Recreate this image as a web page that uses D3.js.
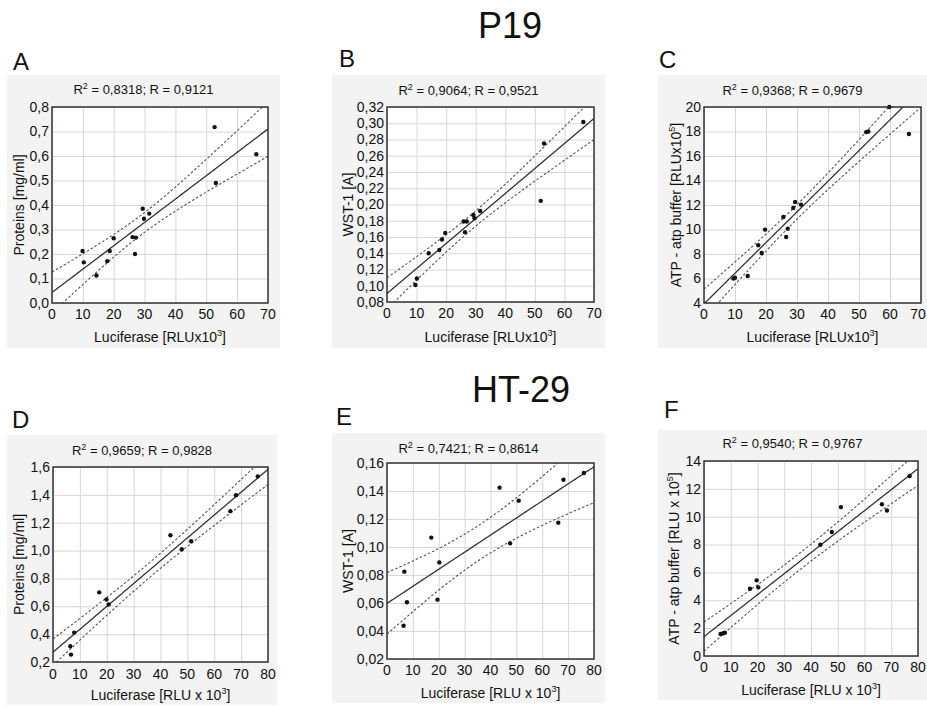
<!DOCTYPE html>
<html><head><meta charset="utf-8">
<script src="https://cdn.jsdelivr.net/npm/d3@7"></script>
<style>
body{margin:0;background:#fff;}
svg{display:block;}
text{font-family:"Liberation Sans",Arial,sans-serif;fill:#111;}
</style>
</head><body>
<svg id="chart" width="927" height="707"></svg>
<script>
// ---------------- DATA ----------------
const panelIds = ["A","B","C","D","E","F"];
const groupTitles = ["P19","HT-29"];

// Luciferase [RLU x 10^3] (x) and response (y) per panel
const luciferaseA = [9.9,10.3,14.4,17.9,18.7,20.0,26.1,27.2,26.9,29.4,29.8,31.5,52.7,53.1,66.2];
const proteinsA   = [0.212,0.166,0.112,0.171,0.212,0.264,0.269,0.267,0.200,0.385,0.344,0.365,0.718,0.490,0.607];

const luciferaseB = [9.6,10.1,14.1,17.7,18.6,19.7,25.9,27.0,26.4,29.2,29.6,31.5,52.0,53.1,66.4];
const wst1B       = [0.101,0.109,0.140,0.144,0.157,0.165,0.179,0.179,0.166,0.187,0.183,0.192,0.2045,0.275,0.3015];

const luciferaseC = [9.5,10.0,14.1,17.5,18.6,19.7,25.6,27.0,26.5,28.8,29.4,31.3,52.3,53.0,59.8,66.1];
const atpC        = [5.99,6.07,6.2,8.71,8.08,9.99,11.02,10.07,9.39,11.76,12.24,12.03,17.95,18.0,20.0,17.8];

const luciferaseD = [6.45,6.7,7.9,17.2,19.9,20.7,43.7,47.9,51.4,66.0,68.1,76.2];
const proteinsD   = [0.313,0.253,0.411,0.700,0.649,0.613,1.110,1.009,1.067,1.283,1.398,1.533];

const luciferaseE = [6.7,6.4,7.7,17.1,20.2,19.5,43.5,47.6,50.9,66.2,68.2,76.1];
const wst1E       = [0.0824,0.0438,0.0605,0.1067,0.089,0.0624,0.1424,0.1026,0.1331,0.1174,0.148,0.1529];

const luciferaseF = [6.2,7.2,7.8,17.2,19.7,20.3,43.5,47.8,51.2,66.5,68.4,76.9];
const atpF        = [1.58,1.63,1.67,4.83,5.43,4.93,7.99,8.9,10.69,10.9,10.45,12.92];

const r2Values = ["0,8318","0,9064","0,9368","0,9659","0,7421","0,9540"];
const rValues  = ["0,9121","0,9521","0,9679","0,9828","0,8614","0,9767"];

const xTicksP19  = [0,10,20,30,40,50,60,70];
const xTicksHT29 = [0,10,20,30,40,50,60,70,80];
const yTicksA = [0,0.1,0.2,0.3,0.4,0.5,0.6,0.7,0.8];
const yTicksB = [0.08,0.10,0.12,0.14,0.16,0.18,0.20,0.22,0.24,0.26,0.28,0.30,0.32];
const yTicksC = [4,6,8,10,12,14,16,18,20];
const yTicksD = [0.2,0.4,0.6,0.8,1.0,1.2,1.4,1.6];
const yTicksE = [0.02,0.04,0.06,0.08,0.10,0.12,0.14,0.16];
const yTicksF = [0,2,4,6,8,10,12,14];
const yDecimals = [1,2,0,1,2,0];

// axis titles: [text, superscript, tail]
const yTitles = [
  ["Proteins [mg/ml]","",""],
  ["WST-1 [A]","",""],
  ["ATP - atp buffer [RLUx10","5","]"],
  ["Proteins [mg/ml]","",""],
  ["WST-1 [A]","",""],
  ["ATP - atp buffer [RLU x 10","5","]"]
];
const xTitleP19  = ["Luciferase [RLUx10","3","]"];
const xTitleHT29 = ["Luciferase [RLU x 10","3","]"];

// two-sided 95% Student t critical values by degrees of freedom
const tCrit = {10:2.228, 11:2.201, 12:2.179, 13:2.160, 14:2.145};

// ---------------- LAYOUT ----------------
const xsAll = [luciferaseA,luciferaseB,luciferaseC,luciferaseD,luciferaseE,luciferaseF];
const ysAll = [proteinsA,wst1B,atpC,proteinsD,wst1E,atpF];
const yTicksAll = [yTicksA,yTicksB,yTicksC,yTicksD,yTicksE,yTicksF];

const layout = [
  {bg:[7,75,273,273],  p:[52,268,107,303], letter:[13,70], titleY:94, yTitleX:19, xTickY:319, xTitleY:342},
  {bg:[332,75,273,273],p:[387,594,107,302],letter:[339,67], titleY:95, yTitleX:348, xTickY:318, xTitleY:342},
  {bg:[658,75,269,273],p:[704,921,107,303],letter:[659,68], titleY:95, yTitleX:676, xTickY:319, xTitleY:342},
  {bg:[7,435,270,270], p:[53,268,467,662], letter:[12,428], titleY:455, yTitleX:19, xTickY:679, xTitleY:700},
  {bg:[332,433,273,270],p:[387,594,463,659],letter:[336,425], titleY:453, yTitleX:348, xTickY:675, xTitleY:698},
  {bg:[658,430,269,270],p:[704,918,461,656],letter:[664,418], titleY:448, yTitleX:674, xTickY:672, xTitleY:695}
];

const svg = d3.select("#chart");
const W = 927;

function supText(sel, parts, supSize){
  sel.append("tspan").text(parts[0]);
  if (parts[1]) {
    sel.append("tspan").attr("dy",-6).attr("font-size",supSize).text(parts[1]);
    sel.append("tspan").attr("dy",6).text(parts[2]);
  }
}

function fit(xs, ys){
  const n = xs.length;
  const mx = d3.mean(xs), my = d3.mean(ys);
  let sxx=0, sxy=0;
  xs.forEach((x,i)=>{ sxx+=(x-mx)*(x-mx); sxy+=(x-mx)*(ys[i]-my); });
  const b = sxy/sxx, a = my - b*mx;
  let sse=0; xs.forEach((x,i)=>{ const r=ys[i]-(a+b*x); sse+=r*r; });
  const s = Math.sqrt(sse/(n-2));
  const t = tCrit[n-2] || 2.2;
  return {a,b,s,t,n,mx,sxx};
}

// group titles
svg.append("text").attr("x",510).attr("y",38).attr("text-anchor","middle")
  .attr("font-size",36).text(groupTitles[0]);
svg.append("text").attr("x",521).attr("y",402).attr("text-anchor","middle")
  .attr("font-size",36).text(groupTitles[1]);

panelIds.forEach((id, k) => {
  const L = layout[k];
  const xs = xsAll[k], ys = ysAll[k], yt = yTicksAll[k];
  const xt = k < 3 ? xTicksP19 : xTicksHT29;
  const [px0,px1,py0,py1] = L.p;
  const g = svg.append("g");

  g.append("rect").attr("x",L.bg[0]).attr("y",L.bg[1]).attr("width",L.bg[2]).attr("height",L.bg[3])
    .attr("fill","#f3f3f3");

  const x = d3.scaleLinear().domain([xt[0], xt[xt.length-1]]).range([px0,px1]);
  const y = d3.scaleLinear().domain([yt[0], yt[yt.length-1]]).range([py1,py0]);

  g.append("rect").attr("x",px0).attr("y",py0).attr("width",px1-px0).attr("height",py1-py0).attr("fill","#fff");

  // grid
  g.append("g").attr("transform",`translate(0,${py1})`)
    .call(d3.axisBottom(x).tickValues(xt).tickSize(-(py1-py0)).tickFormat(""))
    .call(s=>{s.select(".domain").remove(); s.selectAll("line").attr("stroke","#d6d6d6");});
  g.append("g").attr("transform",`translate(${px0},0)`)
    .call(d3.axisLeft(y).tickValues(yt).tickSize(-(px1-px0)).tickFormat(""))
    .call(s=>{s.select(".domain").remove(); s.selectAll("line").attr("stroke","#d6d6d6");});

  // regression + confidence band
  const clipId = "clip"+id;
  g.append("clipPath").attr("id",clipId).append("rect")
    .attr("x",px0).attr("y",py0).attr("width",px1-px0).attr("height",py1-py0);
  const F = fit(xs, ys);
  const xDom = x.domain();
  const grid = d3.range(xDom[0], xDom[1]+0.01, (xDom[1]-xDom[0])/100);
  const half = v => F.t*F.s*Math.sqrt(1/F.n + (v-F.mx)*(v-F.mx)/F.sxx);
  const line = d3.line().x(d=>x(d[0])).y(d=>y(d[1]));
  const cg = g.append("g").attr("clip-path",`url(#${clipId})`);
  cg.append("path").attr("d", line(grid.map(v=>[v, F.a+F.b*v])))
    .attr("fill","none").attr("stroke","#333").attr("stroke-width",1.3);
  [1,-1].forEach(sg=>{
    cg.append("path").attr("d", line(grid.map(v=>[v, F.a+F.b*v + sg*half(v)])))
      .attr("fill","none").attr("stroke","#555").attr("stroke-width",1.1).attr("stroke-dasharray","2.5,2");
  });

  // points
  g.append("g").selectAll("circle").data(xs.map((v,i)=>[v,ys[i]])).join("circle")
    .attr("cx",d=>x(d[0])).attr("cy",d=>y(d[1])).attr("r",2.2).attr("fill","#111");

  // frame
  g.append("rect").attr("x",px0).attr("y",py0).attr("width",px1-px0).attr("height",py1-py0)
    .attr("fill","none").attr("stroke","#333").attr("stroke-width",1.5);

  // tick labels
  const fmt = v => d3.format(`.${yDecimals[k]}f`)(v).replace(".",",");
  g.append("g").selectAll("text").data(yt).join("text")
    .attr("x",px0-3).attr("y",d=>y(d)).attr("dy","0.35em").attr("text-anchor","end")
    .attr("font-size",14).text(fmt);
  g.append("g").selectAll("text").data(xt).join("text")
    .attr("x",d=>Math.min(x(d), W-9)).attr("y",L.xTickY).attr("text-anchor","middle")
    .attr("font-size",14).text(d=>d);

  // axis titles
  const xtT = g.append("text").attr("x",(px0+px1)/2).attr("y",L.xTitleY).attr("text-anchor","middle").attr("font-size",14);
  supText(xtT, k<3 ? xTitleP19 : xTitleHT29, 9);
  const ytT = g.append("text").attr("transform",`translate(${L.yTitleX},${(py0+py1)/2}) rotate(-90)`)
    .attr("dy","0.35em").attr("text-anchor","middle").attr("font-size",14);
  supText(ytT, yTitles[k], 9);

  // stats title
  const st = g.append("text").attr("x",L.bg[0]+L.bg[2]/2).attr("y",L.titleY).attr("text-anchor","middle").attr("font-size",13);
  st.append("tspan").text("R");
  st.append("tspan").attr("dy",-5).attr("font-size",9).text("2");
  st.append("tspan").attr("dy",5).text(` = ${r2Values[k]}; R = ${rValues[k]}`);

  // panel letter
  g.append("text").attr("x",L.letter[0]).attr("y",L.letter[1]).attr("font-size",24).text(id);
});
</script>
</body></html>
